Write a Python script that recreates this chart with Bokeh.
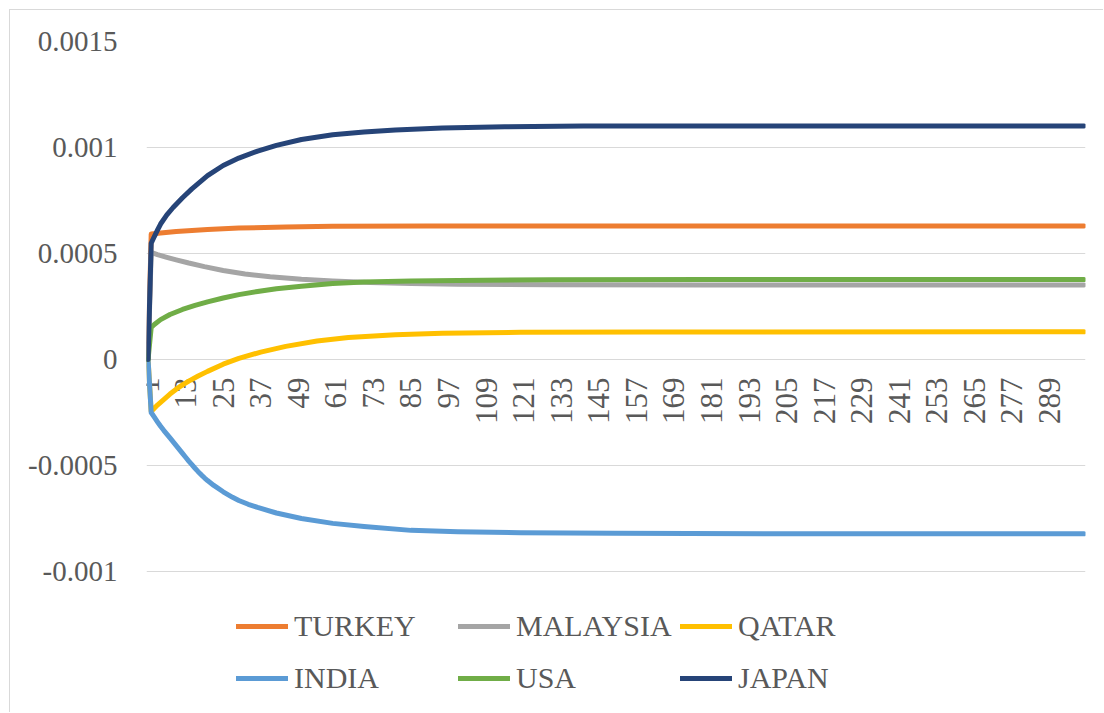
import math
from bokeh.plotting import figure
from bokeh.models import Range1d, FixedTicker, CustomJSTickFormatter, Legend, LegendItem
from bokeh.core.properties import value
from bokeh.embed import file_html
from bokeh.resources import INLINE

# ---------------- data ----------------
series_names = ["TURKEY", "MALAYSIA", "QATAR", "INDIA", "USA", "JAPAN"]
series_colors = ["#ED7D31", "#A5A5A5", "#FFC000", "#5B9BD5", "#70AD47", "#264478"]

turkey_x = [1, 2, 5, 10, 20, 30, 45, 60, 90, 300]
turkey_y = [0, 0.000592, 0.000597, 0.000604, 0.000613, 0.00062, 0.000625, 0.000628, 0.00063, 0.00063]

malaysia_x = [1, 2, 4, 7, 10, 14, 19, 25, 32, 40, 50, 60, 72, 85, 100, 130, 180, 300]
malaysia_y = [0, 0.000505, 0.000495, 0.000482, 0.00047, 0.000455, 0.000438, 0.00042, 0.000403,
              0.00039, 0.000378, 0.00037, 0.000363, 0.000358, 0.000355, 0.000353, 0.000352, 0.000352]

qatar_x = [1, 2, 3, 4, 6, 8, 10, 12, 14, 17, 20, 25, 30, 37, 45, 55, 65, 80, 95, 120, 160, 300]
qatar_y = [0, -0.000245, -0.00023, -0.000215, -0.000189, -0.000163, -0.00014, -0.00012, -0.000102,
           -0.000078, -0.000056, -0.000022, 0.000005, 0.000035, 0.000062, 0.000087, 0.000104,
           0.000117, 0.000124, 0.000128, 0.00013, 0.000131]

india_x = [1, 2, 3, 4, 5, 6, 7, 8, 10, 12, 13, 14, 15, 16, 17, 18, 19, 20, 22, 25, 28, 30,
           33, 36, 42, 50, 60, 70, 85, 100, 120, 150, 200, 300]
india_y = [0, -0.00025, -0.000272, -0.000294, -0.000315, -0.000334, -0.000352, -0.00037, -0.000406,
           -0.000443, -0.000461, -0.000479, -0.000496, -0.000513, -0.000529, -0.000544, -0.000558,
           -0.000571, -0.000594, -0.000624, -0.00065, -0.000665, -0.000683, -0.000698, -0.000724,
           -0.00075, -0.000773, -0.000788, -0.000806, -0.000813, -0.000817, -0.00082, -0.000822,
           -0.000822]

usa_x = [1, 2, 3, 5, 8, 12, 16, 20, 25, 30, 36, 42, 50, 60, 70, 85, 100, 130, 180, 300]
usa_y = [0, 0.000151, 0.000165, 0.000188, 0.000212, 0.000236, 0.000255, 0.000272, 0.00029, 0.000306,
         0.000321, 0.000334, 0.000346, 0.000358, 0.000365, 0.00037, 0.000373, 0.000376, 0.000377, 0.000377]

japan_x = [1, 2, 3, 4, 5, 7, 9, 12, 15, 20, 25, 30, 36, 42, 50, 60, 70, 80, 95, 115, 140, 200, 300]
japan_y = [0, 0.000548, 0.00058, 0.00061, 0.000639, 0.000682, 0.000717, 0.000763, 0.000805, 0.000867,
           0.000915, 0.00095, 0.000983, 0.00101, 0.001038, 0.00106, 0.001073, 0.001083, 0.001092,
           0.001098, 0.001101, 0.001102, 0.001102]

y_ticks = [-0.001, -0.0005, 0, 0.0005, 0.001, 0.0015]
x_tick_positions = [1, 13, 25, 37, 49, 61, 73, 85, 97, 109, 121, 133, 145, 157, 169,
                    181, 193, 205, 217, 229, 241, 253, 265, 277, 289]
x_tick_labels = ["1", "13", "25", "37", "49", "61", "73", "85", "97", "109", "121", "133",
                 "145", "157", "169", "181", "193", "205", "217", "229", "241", "253",
                 "265", "277", "289"]
n_categories = 300

series_x = [turkey_x, malaysia_x, qatar_x, india_x, usa_x, japan_x]
series_y = [turkey_y, malaysia_y, qatar_y, india_y, usa_y, japan_y]

# ---------------- layout / styling ----------------
FONT = "Liberation Serif"
TXT = "#595959"
GRID = "#D9D9D9"

W, H = 1094, 703                 # figure size inside a 9px margin + 1px border
LEFT, RIGHT, TOP = 136, 19, 31   # borders around the plotting frame
AXIS_PX = 530                    # pixels from -0.001 up to 0.0015
y_top = y_ticks[-1]
y_axis_min = y_ticks[0]
frame_h = H - TOP
y_bottom = y_top - (y_top - y_axis_min) * frame_h / AXIS_PX   # frame continues below axis for legend

p = figure(width=W, height=H,
           x_range=Range1d(0.5, n_categories + 0.5),
           y_range=Range1d(y_bottom, y_top),
           output_backend="svg", toolbar_location=None,
           min_border_left=LEFT, min_border_right=RIGHT,
           min_border_top=TOP, min_border_bottom=0,
           margin=(9, 0, 0, 9),
           styles={"border-left": "1px solid #D9D9D9", "border-top": "1px solid #D9D9D9"})

p.outline_line_color = None
p.background_fill_color = "white"
p.border_fill_color = "white"

p.xaxis.visible = False
p.xgrid.visible = False

p.yaxis.ticker = FixedTicker(ticks=y_ticks)
p.yaxis.formatter = CustomJSTickFormatter(code="return String(Number(tick.toFixed(6)));")
p.yaxis.axis_line_color = None
p.yaxis.major_tick_line_color = None
p.yaxis.minor_tick_line_color = None
p.yaxis.major_tick_out = 0
p.yaxis.major_tick_in = 0
p.yaxis.major_label_standoff = 29
p.yaxis.major_label_text_font = FONT
p.yaxis.major_label_text_font_size = "29px"
p.yaxis.major_label_text_color = TXT

p.ygrid.ticker = FixedTicker(ticks=y_ticks)
p.ygrid.grid_line_color = GRID
p.ygrid.grid_line_width = 1

# category labels sitting on the zero line, rotated
p.text(x=x_tick_positions, y=[0] * len(x_tick_positions), text=x_tick_labels,
       angle=math.pi / 2, text_align="right", text_baseline="middle",
       y_offset=18, text_font=value(FONT), text_font_size="31px", text_color=TXT)

renderers = []
for xs, ys, col in zip(series_x, series_y, series_colors):
    r = p.line(xs, ys, line_color=col, line_width=5, line_cap="round", line_join="round")
    renderers.append(r)

common = dict(orientation="horizontal", glyph_width=52, glyph_height=30,
              label_height=30, label_width=160, label_standoff=6, spacing=4,
              padding=0, margin=0, border_line_alpha=0, background_fill_alpha=0,
              label_text_font=FONT, label_text_font_size="30px",
              label_text_color=TXT)

leg1 = Legend(items=[LegendItem(label=series_names[i], renderers=[renderers[i]]) for i in range(3)],
              location=(90, 70), **common)
leg2 = Legend(items=[LegendItem(label=series_names[i], renderers=[renderers[i]]) for i in range(3, 6)],
              location=(90, 18), **common)
p.add_layout(leg1)
p.add_layout(leg2)

open("out.html", "w").write(file_html(p, INLINE))
